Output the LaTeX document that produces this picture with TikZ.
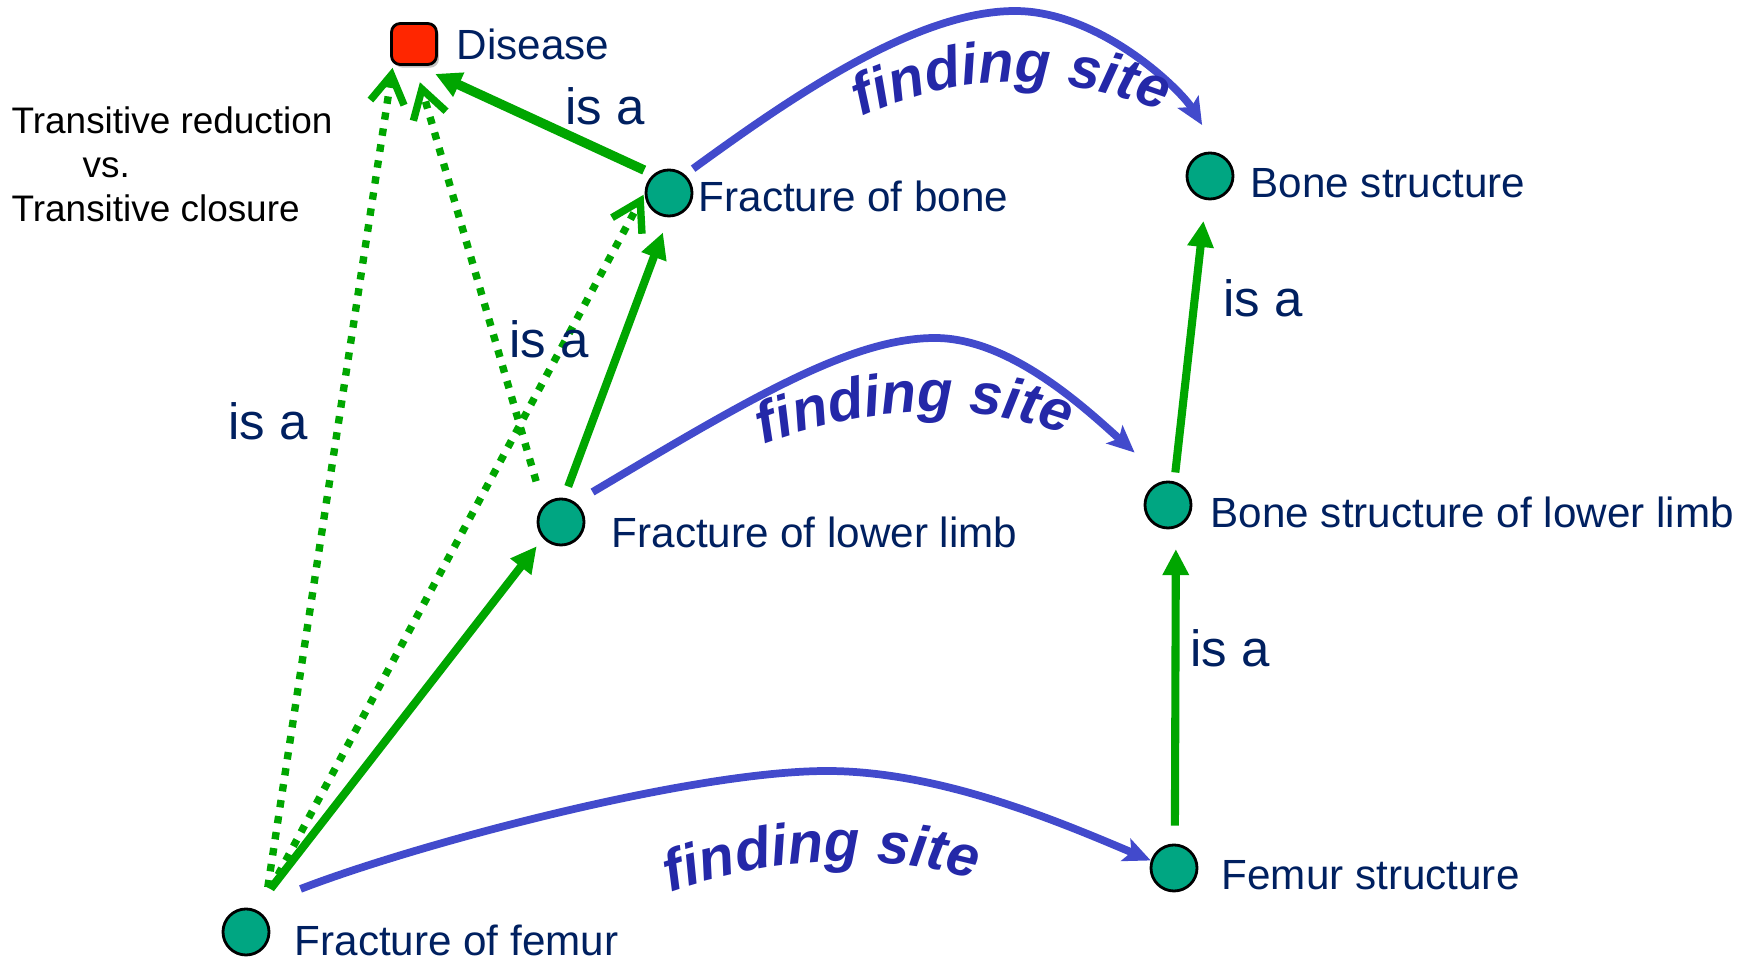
\documentclass[tikz,border=0pt]{standalone}
\usepackage{fontspec}
\setmainfont{Liberation Sans}
\usepackage{xcolor}
\usepackage{tikz}
\usetikzlibrary{arrows.meta, shadows, decorations.text}
\definecolor{mygreen}{RGB}{0,166,0}
\definecolor{myteal}{RGB}{0,166,130}
\definecolor{myblue}{RGB}{66,74,204}
\definecolor{mynavy}{RGB}{0,32,96}
\definecolor{myred}{RGB}{255,38,0}
\definecolor{fsblue}{RGB}{36,40,168}
\newcommand{\fsfont}{\fontsize{16.5}{20}\selectfont\bfseries\itshape}
\tikzset{
  concept/.style={circle, draw=black, fill=myteal, minimum size=0.46cm,
    inner sep=0pt, line width=0.8pt},
  lbl/.style={anchor=west, inner sep=0pt, text=mynavy,
    font=\fontsize{12}{14}\selectfont},
  isalbl/.style={inner sep=0pt, text=mynavy, font=\fontsize{14.5}{17}\selectfont},
  isa/.style={-{Triangle[length=0.26cm, width=0.25cm]}, line width=2.3pt, color=mygreen},
  isadot/.style={-{Straight Barb[length=0.28cm, width=0.34cm]}, line width=2.1pt,
    color=mygreen, dash pattern=on 2.1pt off 2.5pt},
  fsite/.style={-{Stealth[length=0.27cm, width=0.24cm, inset=0.06cm]},
    line width=2.2pt, color=myblue}
}

\begin{document}
\begin{tikzpicture}[x=0.01cm, y=-0.01cm,
  dis/.style={rectangle, draw=black, fill=myred, minimum width=0.45cm,
    minimum height=0.41cm, rounded corners=2.5pt, line width=0.8pt,
    drop shadow={fill=black!45, opacity=0.5, shadow xshift=0.7pt, shadow yshift=-0.9pt}},
  fslbl/.style={decorate, decoration={text along path, text={|\fsfont|finding site},
    text align=center, text color=fsblue}}]

  \path[use as bounding box, fill=white] (0,0) rectangle (1753,961);

  \node[anchor=north west, inner sep=0pt, align=left,
    font=\fontsize{10.5}{12.5}\selectfont] (note) at (11,106)
    {Transitive reduction\\\hspace*{0.71cm}vs.\\Transitive closure};

  \node[dis] (disease) at (414,44) {};
  \node[concept] (bone) at (669,193) {};
  \node[concept] (bonestr) at (1210,176) {};
  \node[concept] (lowlimb) at (561,522) {};
  \node[concept] (bsll) at (1168,505) {};
  \node[concept] (femstr) at (1174,868) {};
  \node[concept] (femur) at (246,932) {};

  \node[lbl] (disease-lbl) at (456,44) {Disease};
  \node[lbl] (bone-lbl) at (698,196) {Fracture of bone};
  \node[lbl] (bonestr-lbl) at (1250,183) {Bone structure};
  \node[lbl] (lowlimb-lbl) at (611,532) {Fracture of lower limb};
  \node[lbl] (bsll-lbl) at (1210,512) {Bone structure of lower limb};
  \node[lbl] (femstr-lbl) at (1221,875) {Femur structure};
  \node[lbl] (femur-lbl) at (294,940) {Fracture of femur};

  \draw[isadot, shorten <=0.28cm, shorten >=0.02cm] (femur.44) -- (disease.-134);
  \draw[isadot, shorten <=0.25cm, shorten >=0.02cm] (femur.59) -- (bone.west);
  \draw[isadot, shorten <=0.25cm, shorten >=0.17cm] (lowlimb.137) -- (disease.-87);

  \draw[isa, line width=2.7pt, shorten <=0.10cm, shorten >=0.19cm] (bone.130) -- (disease.-80);
  \draw[isa, shorten <=0.12cm, shorten >=0.16cm] (lowlimb.83) -- (bone.-91);
  \draw[isa, shorten <=0.26cm, shorten >=0.10cm] (femur.69) -- (lowlimb.222);
  \draw[isa, shorten <=0.18cm, shorten >=0.21cm] (femstr.88) -- (bsll.-71);
  \draw[isa, shorten <=0.09cm, shorten >=0.21cm] (bsll.75) -- (bonestr.-100);

  \node[isalbl] (isa1) at (605,106) {is a};
  \node[isalbl] (isa2) at (549,339) {is a};
  \node[isalbl] (isa3) at (268,421) {is a};
  \node[isalbl] (isa4) at (1263,298) {is a};
  \node[isalbl] (isa5) at (1230,648) {is a};

  \draw[fsite, shorten <=0.10cm, shorten >=0.33cm] (bone.49)
    .. controls (789,99) and (915,11) .. (1015,11)
    .. controls (1100,11) and (1181,90) .. (bonestr.68);
  \draw[fsite, shorten <=0.20cm, shorten >=0.42cm] (lowlimb.54)
    .. controls (746,401) and (850,338) .. (935,338)
    .. controls (1010,338) and (1085,408) .. (bsll.95);
  \draw[fsite, shorten <=0.53cm] (femur.78)
    .. controls (414,845) and (690,771) .. (827,771)
    .. controls (940,771) and (1060,822) .. (femstr.162);

  \path[fslbl] (845,125) .. controls (955,69) and (1063,69) .. (1180,118);
  \path[fslbl] (750,450) .. controls (870,401) and (987,401) .. (1080,440);
  \path[fslbl] (660,896) .. controls (775,853) and (890,853) .. (985,882);

\end{tikzpicture}
\end{document}
